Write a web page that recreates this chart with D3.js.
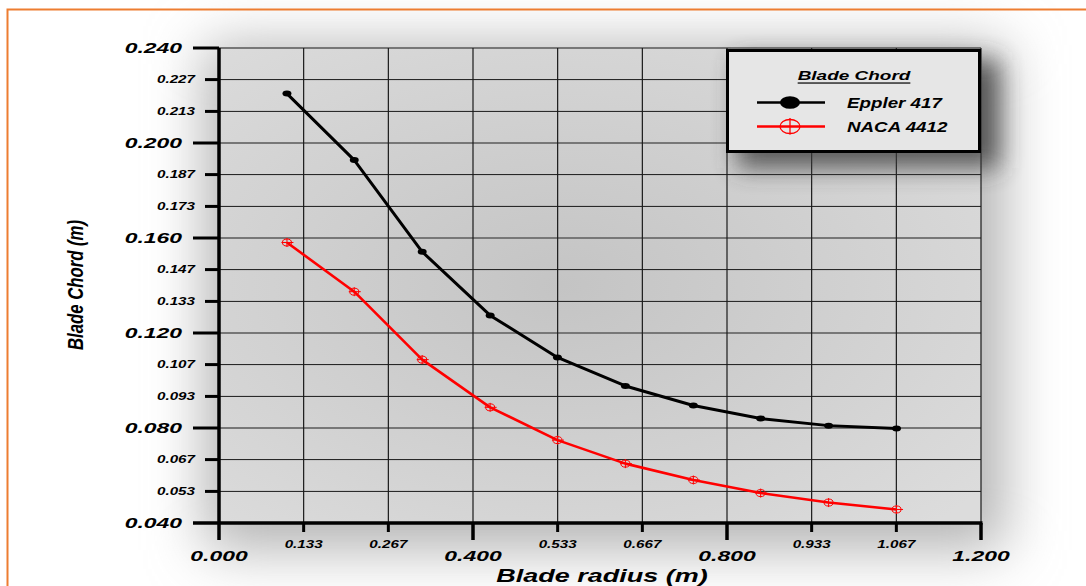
<!DOCTYPE html>
<html><head><meta charset="utf-8">
<script src="https://cdn.jsdelivr.net/npm/d3@7"></script>
<style>html,body{margin:0;padding:0;background:#fff;}svg{display:block;}</style>
</head><body>
<script>
const radius = [0.107, 0.213, 0.320, 0.427, 0.533, 0.640, 0.747, 0.853, 0.960, 1.067];
const eppler417 = [0.2208, 0.1928, 0.1542, 0.1274, 0.1097, 0.0977, 0.0895, 0.0840, 0.0810, 0.0798];
const naca4412 = [0.1581, 0.1374, 0.1088, 0.0887, 0.0749, 0.0650, 0.0581, 0.0526, 0.0486, 0.0457];
const seriesNames = ["Eppler 417", "NACA 4412"];
const xMajorTicks = [0.000, 0.400, 0.800, 1.200];
const xMinorTicks = [0.1333, 0.2667, 0.5333, 0.6667, 0.9333, 1.0667];
const yMajorTicks = [0.040, 0.080, 0.120, 0.160, 0.200, 0.240];
const yMinorTicks = [0.0533, 0.0667, 0.0933, 0.1067, 0.1333, 0.1467, 0.1733, 0.1867, 0.2133, 0.2267];

const W = 1086, H = 586;
const svg = d3.select("body").append("svg").attr("width", W).attr("height", H);
const defs = svg.append("defs");
const f1 = defs.append("filter").attr("id","blur1").attr("x","-30%").attr("y","-30%").attr("width","160%").attr("height","160%");
f1.append("feGaussianBlur").attr("stdDeviation", 28);
const f2 = defs.append("filter").attr("id","blur2").attr("x","-40%").attr("y","-60%").attr("width","180%").attr("height","220%");
f2.append("feGaussianBlur").attr("stdDeviation", 12);
const rg = defs.append("radialGradient").attr("id","plotbg").attr("cx","0.45").attr("cy","0.5").attr("r","0.7");
rg.append("stop").attr("offset","0").attr("stop-color","#c4c4c4");
rg.append("stop").attr("offset","1").attr("stop-color","#dcdcdc");

const x = d3.scaleLinear().domain([0, 1.2]).range([219, 981]);
const y = d3.scaleLinear().domain([0.04, 0.24]).range([523, 48]);
const fmt = d3.format(".3f");
const FONT = "'Liberation Sans', Arial, sans-serif";

// outer shadow glow
svg.append("rect").attr("x", 205).attr("y", 45).attr("width", 800).attr("height", 505)
  .attr("fill", "#b4b4b4").attr("filter", "url(#blur1)");
// plot background
svg.append("rect").attr("x", x(0)).attr("y", y(0.24)).attr("width", x(1.2)-x(0)).attr("height", y(0.04)-y(0.24))
  .attr("fill", "url(#plotbg)");

// orange frame
svg.append("rect").attr("x", 7.5).attr("y", 9.5).attr("width", 1100).attr("height", 620)
  .attr("fill", "none").attr("stroke", "#ed7d31").attr("stroke-width", 2);

function stext(g, txt, px, py, size, sx, anchor, opts) {
  opts = opts || {};
  const t = g.append("text")
    .attr("transform", `translate(${px},${py}) scale(${sx},1)`)
    .attr("text-anchor", anchor).attr("dominant-baseline", "central")
    .attr("font-family", FONT).attr("font-size", size)
    .attr("font-weight", opts.weight || "bold").attr("font-style", "italic")
    .attr("fill", "#000").text(txt);
  if (opts.underline) t.attr("text-decoration", "underline");
  return t;
}

// grid
const grid = svg.append("g");
grid.selectAll(".hmin").data(yMinorTicks).join("line")
  .attr("x1", x(0)).attr("x2", x(1.2)).attr("y1", d => y(d)).attr("y2", d => y(d))
  .attr("stroke", "#1a1a1a").attr("stroke-width", 1);
grid.selectAll(".hmaj").data(yMajorTicks.filter(d => d > 0.04)).join("line")
  .attr("x1", x(0)).attr("x2", x(1.2)).attr("y1", d => y(d)).attr("y2", d => y(d))
  .attr("stroke", "#777").attr("stroke-width", 2);
grid.selectAll(".vmin").data(xMinorTicks.concat(xMajorTicks.filter(d => d > 0))).join("line")
  .attr("x1", d => x(d)).attr("x2", d => x(d)).attr("y1", y(0.24)).attr("y2", y(0.04))
  .attr("stroke", "#1a1a1a").attr("stroke-width", 1.2);

// axes
const ax = svg.append("g");
ax.append("line").attr("x1", x(0)).attr("x2", x(0)).attr("y1", y(0.24)).attr("y2", y(0.04) + 17)
  .attr("stroke", "#000").attr("stroke-width", 3.5);
ax.append("line").attr("x1", x(0) - 26).attr("x2", x(1.2) + 1.5).attr("y1", y(0.04)).attr("y2", y(0.04))
  .attr("stroke", "#000").attr("stroke-width", 3.5);
ax.selectAll(".ytmaj").data(yMajorTicks.filter(d => d > 0.04)).join("line")
  .attr("x1", x(0) - 26).attr("x2", x(0)).attr("y1", d => y(d)).attr("y2", d => y(d))
  .attr("stroke", "#000").attr("stroke-width", 3);
ax.selectAll(".ytmin").data(yMinorTicks).join("line")
  .attr("x1", x(0) - 14).attr("x2", x(0)).attr("y1", d => y(d)).attr("y2", d => y(d))
  .attr("stroke", "#000").attr("stroke-width", 3);
ax.selectAll(".xtmaj").data(xMajorTicks.filter(d => d > 0)).join("line")
  .attr("x1", d => x(d)).attr("x2", d => x(d)).attr("y1", y(0.04)).attr("y2", y(0.04) + 17)
  .attr("stroke", "#000").attr("stroke-width", 3.5);
ax.selectAll(".xtmin").data(xMinorTicks).join("line")
  .attr("x1", d => x(d)).attr("x2", d => x(d)).attr("y1", y(0.04)).attr("y2", y(0.04) + 9)
  .attr("stroke", "#000").attr("stroke-width", 3);

const lab = svg.append("g");
yMajorTicks.forEach(d => stext(lab, fmt(d), 182, y(d), 14.5, 1.58, "end"));
yMinorTicks.forEach(d => stext(lab, fmt(d), 195, y(d), 10, 1.52, "end"));
xMajorTicks.forEach(d => stext(lab, fmt(d), x(d), 556, 14.5, 1.58, "middle"));
xMinorTicks.forEach(d => stext(lab, fmt(d), x(d), 545, 10, 1.52, "middle"));
stext(lab, "Blade radius (m)", 602, 576, 18, 1.5, "middle");
lab.append("text").attr("transform", "translate(75,285) rotate(-90)")
  .attr("text-anchor", "middle").attr("dominant-baseline", "central")
  .attr("font-family", FONT).attr("font-size", 22).attr("font-style", "italic").attr("font-weight", "bold")
  .attr("textLength", 130).attr("lengthAdjust", "spacingAndGlyphs")
  .text("Blade Chord (m)");

// series
const line = d3.line().x(d => x(d[0])).y(d => y(d[1]));
const eData = radius.map((r, i) => [r, eppler417[i]]);
const nData = radius.map((r, i) => [r, naca4412[i]]);
const plot = svg.append("g");
plot.append("path").datum(eData).attr("d", line).attr("fill", "none").attr("stroke", "#000").attr("stroke-width", 3).attr("stroke-linejoin", "round");
plot.append("path").datum(nData).attr("d", line).attr("fill", "none").attr("stroke", "#ff0000").attr("stroke-width", 2.6).attr("stroke-linejoin", "round");
plot.selectAll(".em").data(eData).join("ellipse")
  .attr("cx", d => x(d[0])).attr("cy", d => y(d[1])).attr("rx", 4.5).attr("ry", 3).attr("fill", "#000");
const nm = plot.selectAll(".nm").data(nData).join("g").attr("transform", d => `translate(${x(d[0])},${y(d[1])})`);
nm.append("ellipse").attr("rx", 4.5).attr("ry", 3.5).attr("fill", "none").attr("stroke", "#ff0000").attr("stroke-width", 1);
nm.append("line").attr("x1", 0).attr("x2", 0).attr("y1", -4.5).attr("y2", 4.5).attr("stroke", "#ff0000").attr("stroke-width", 1);
nm.append("line").attr("x1", -5.5).attr("x2", 6.5).attr("y1", 0).attr("y2", 0).attr("stroke", "#ff0000").attr("stroke-width", 1);

// legend
const lg = svg.append("g");
lg.append("rect").attr("x", 737).attr("y", 60).attr("width", 262).attr("height", 108)
  .attr("fill", "#3a3a3a").attr("opacity", 0.8).attr("filter", "url(#blur2)");
lg.append("rect").attr("x", 727.5).attr("y", 50.5).attr("width", 252).attr("height", 101)
  .attr("fill", "#e6e6e6").attr("stroke", "#000").attr("stroke-width", 3);
stext(lg, "Blade Chord", 854, 76, 12, 1.58, "middle", {underline: true});
lg.append("line").attr("x1", 757).attr("x2", 825).attr("y1", 102.5).attr("y2", 102.5).attr("stroke", "#000").attr("stroke-width", 2.5);
lg.append("ellipse").attr("cx", 790).attr("cy", 102.5).attr("rx", 10).attr("ry", 6.3).attr("fill", "#000");
stext(lg, seriesNames[0], 847, 103, 14, 1.34, "start");
lg.append("line").attr("x1", 757).attr("x2", 825).attr("y1", 126.5).attr("y2", 126.5).attr("stroke", "#ff0000").attr("stroke-width", 2.5);
lg.append("ellipse").attr("cx", 790).attr("cy", 126.5).attr("rx", 10).attr("ry", 7).attr("fill", "none").attr("stroke", "#ff0000").attr("stroke-width", 1.3);
lg.append("line").attr("x1", 790).attr("x2", 790).attr("y1", 118).attr("y2", 134.5).attr("stroke", "#ff0000").attr("stroke-width", 1.3);
stext(lg, seriesNames[1], 847, 127, 14, 1.34, "start");
</script>
</body></html>
